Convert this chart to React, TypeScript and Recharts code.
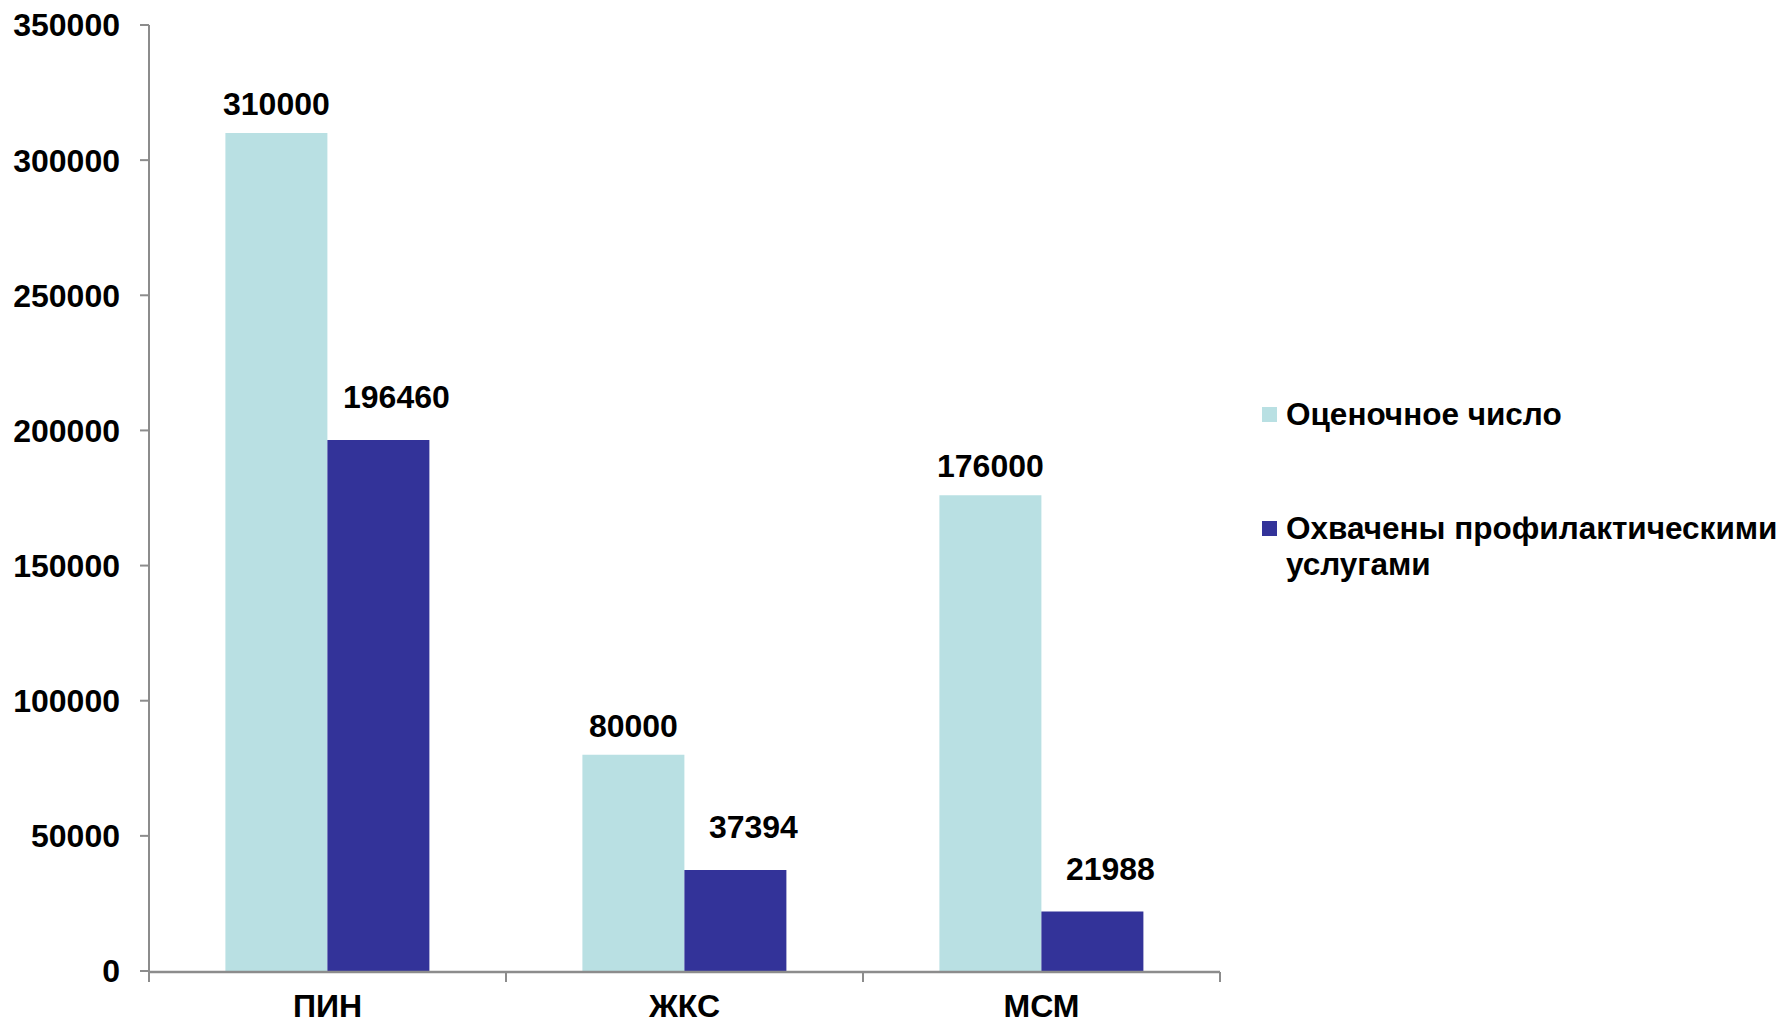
import { BarChart, Bar, XAxis, YAxis, LabelList } from "recharts";

const categories = ["ПИН", "ЖКС", "МСМ"];
const estimated = [310000, 80000, 176000];
const covered = [196460, 37394, 21988];
const yTicks = [0, 50000, 100000, 150000, 200000, 250000, 300000, 350000];
const edgeTicks = [0, 1, 2, 3];
const seriesNames = ["Оценочное число", "Охвачены профилактическими услугами"];
const seriesColors = ["#b9e0e3", "#333399"];

const data = categories.map((name, i) => ({
  name,
  estimated: estimated[i],
  covered: covered[i],
}));

const font = "'Liberation Sans', Arial, sans-serif";
const axisGray = "#8c8c8c";
const textStyle = { fontFamily: font, fontSize: 32, fontWeight: 700, fill: "#000" };

// boundary ticks only, no labels
const NoLabel = () => <g />;

export default function App() {
  return (
    <div style={{ position: "relative", width: 1779, height: 1014, fontFamily: font }}>
      <BarChart
        width={1779}
        height={1014}
        data={data}
        margin={{ top: 17, right: 567, bottom: 49, left: 0 }}
        barCategoryGap="21.4%"
        barGap={0}
      >
        <YAxis
          domain={[0, 350000]}
          ticks={yTicks}
          width={141}
          axisLine={{ stroke: axisGray, strokeWidth: 2 }}
          tickLine={{ stroke: axisGray, strokeWidth: 2 }}
          tickSize={9}
          tickMargin={20}
          tick={textStyle}
          interval={0}
        />
        <XAxis
          dataKey="name"
          height={1}
          axisLine={false}
          tickLine={false}
          tickSize={10}
          tickMargin={13}
          tick={textStyle}
        />
        <XAxis
          xAxisId="edge"
          type="number"
          dataKey={() => 0}
          domain={[0, 3]}
          allowDataOverflow
          ticks={edgeTicks}
          interval={0}
          height={1}
          tick={NoLabel}
          tickSize={10}
          axisLine={{ stroke: axisGray, strokeWidth: 2.5 }}
          tickLine={{ stroke: axisGray, strokeWidth: 2 }}
        />
        <Bar dataKey="estimated" fill={seriesColors[0]} isAnimationActive={false}>
          <LabelList dataKey="estimated" position="top" offset={18} style={textStyle} />
        </Bar>
        <Bar dataKey="covered" fill={seriesColors[1]} isAnimationActive={false}>
          <LabelList
            dataKey="covered"
            position="top"
            offset={32}
            dx={18}
            style={textStyle}
          />
        </Bar>
      </BarChart>
      <div style={{ position: "absolute", left: 1254, top: 388, width: 525 }}>
        {seriesNames.map((name, i) => (
          <div
            key={name}
            style={{ display: "flex", alignItems: "flex-start", marginBottom: 78 }}
          >
            <div
              style={{
                width: 15,
                height: 15,
                marginTop: 10.5,
                marginRight: 9,
                flex: "0 0 15px",
                background: seriesColors[i],
              }}
            />
            <div style={{ fontSize: 31.5, fontWeight: 700, lineHeight: "36px", color: "#000" }}>
              {name}
            </div>
          </div>
        ))}
      </div>
    </div>
  );
}
